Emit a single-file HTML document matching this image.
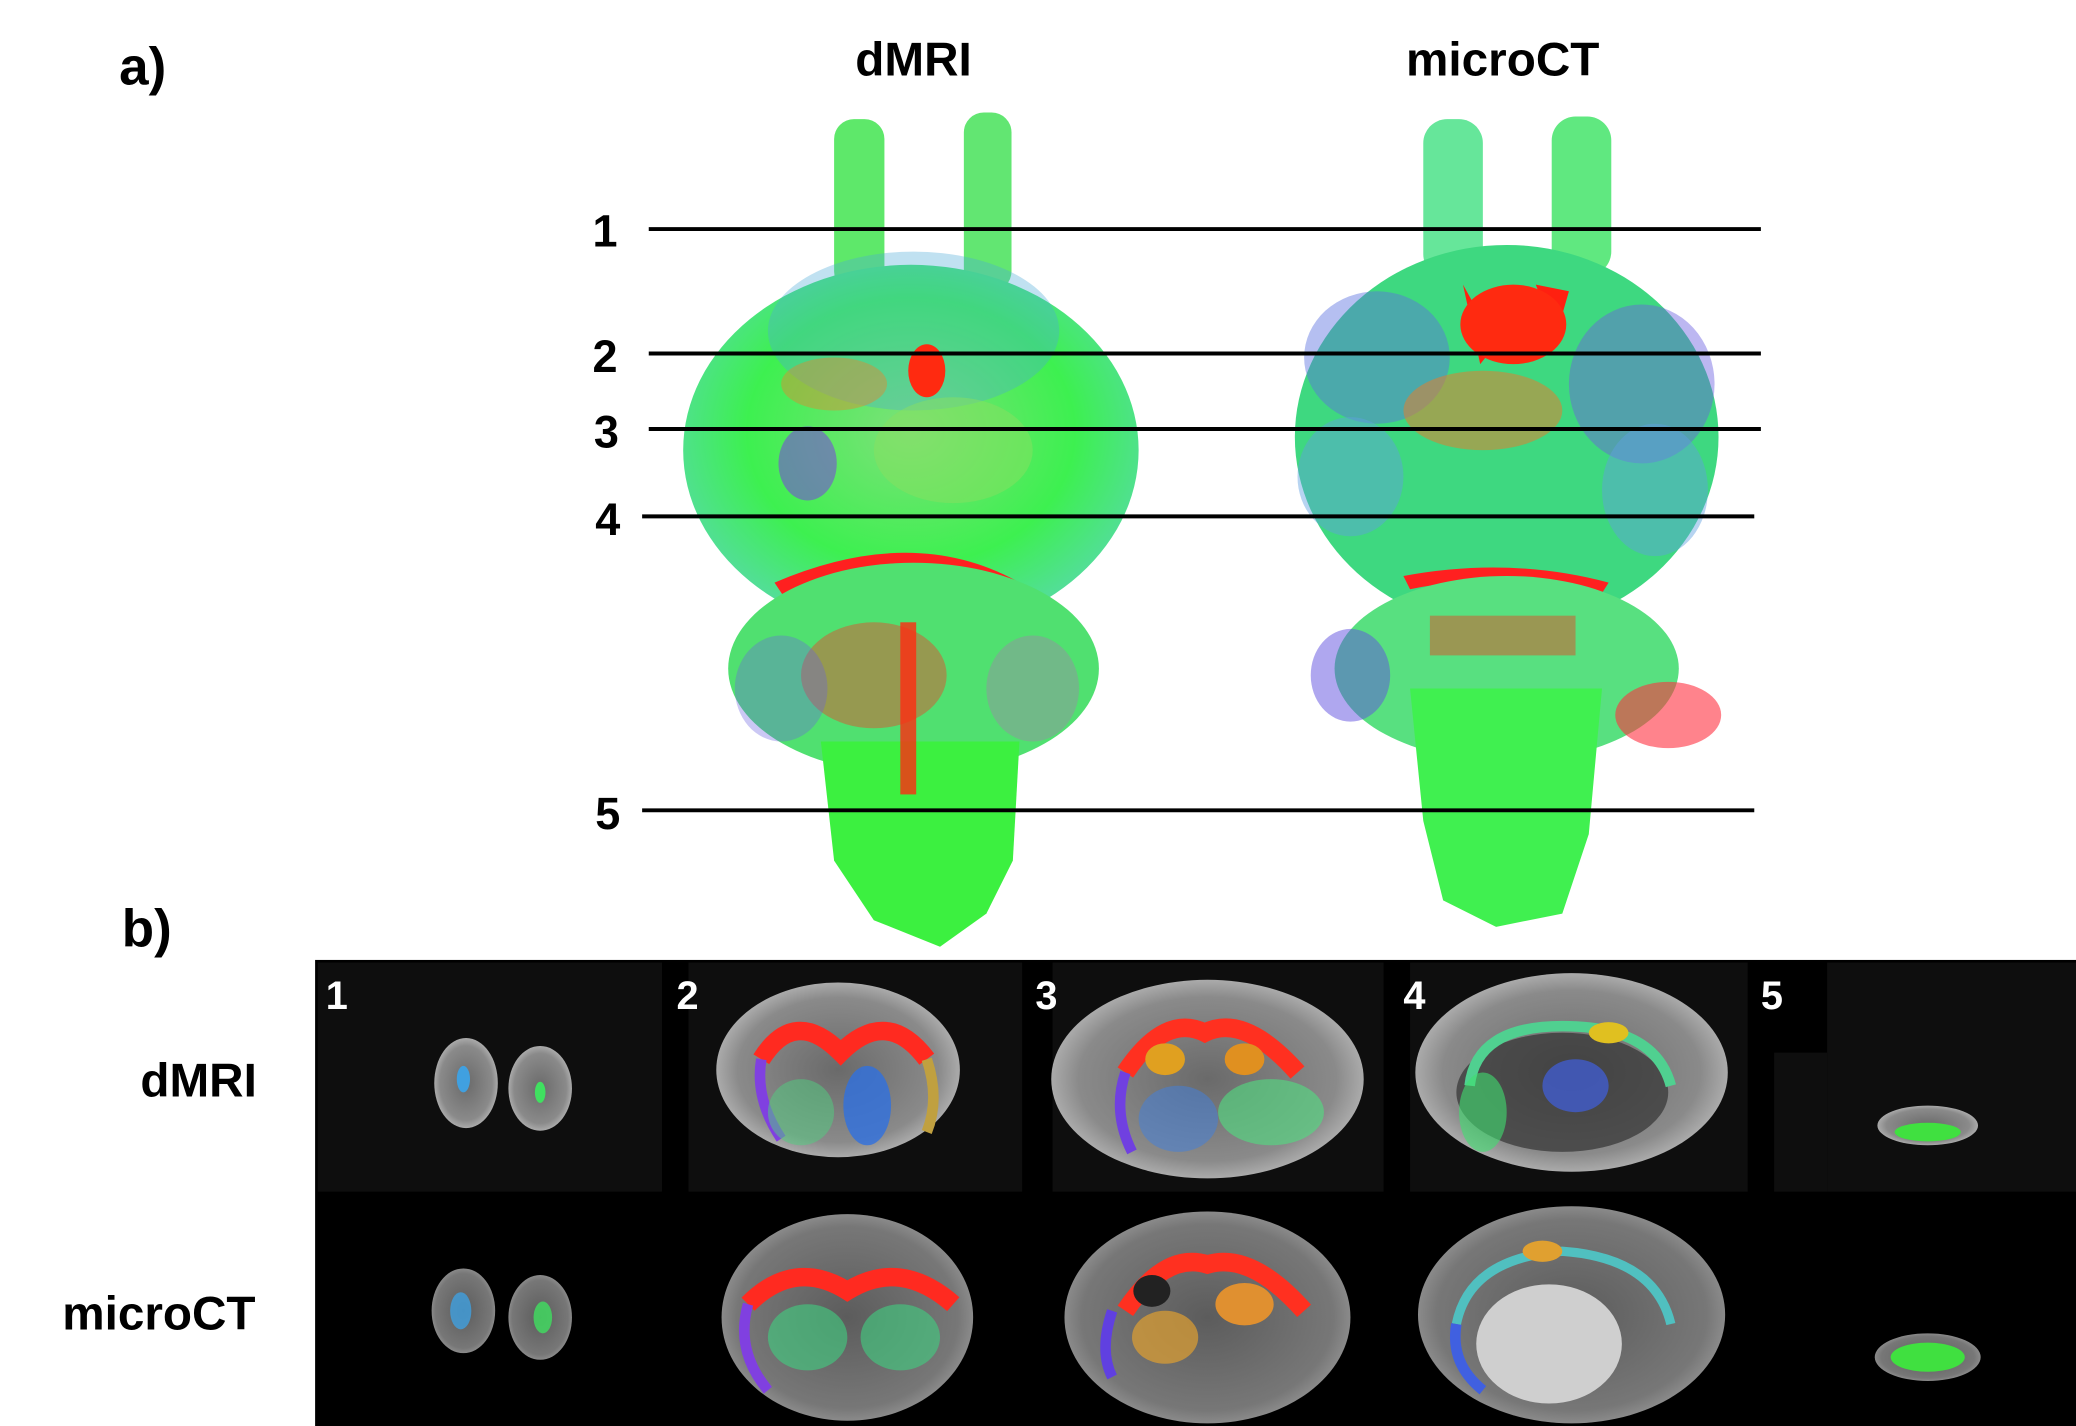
<!DOCTYPE html>
<html><head><meta charset="utf-8"><style>
html,body{margin:0;padding:0;background:#fff;}
svg{display:block;}
text{font-family:"Liberation Sans",sans-serif;font-weight:bold;}
</style></head><body>
<svg width="2076" height="1426" viewBox="0 0 1568 1077" preserveAspectRatio="none" xmlns="http://www.w3.org/2000/svg">
<defs>
<radialGradient id="gbrain" cx="50%" cy="45%" r="60%"><stop offset="0" stop-color="#7ee07a"/><stop offset="0.6" stop-color="#3df050"/><stop offset="1" stop-color="#5ad8b0"/></radialGradient>
<radialGradient id="gslice" cx="50%" cy="50%" r="55%"><stop offset="0" stop-color="#6a6a6a"/><stop offset="0.75" stop-color="#8a8a8a"/><stop offset="1" stop-color="#bdbdbd"/></radialGradient>
<radialGradient id="gslice2" cx="50%" cy="50%" r="55%"><stop offset="0" stop-color="#5c5c5c"/><stop offset="0.8" stop-color="#777"/><stop offset="1" stop-color="#9a9a9a"/></radialGradient>
</defs>
<text x="90" y="64" font-size="40">a)</text>
<text x="690" y="57" font-size="36" text-anchor="middle">dMRI</text>
<text x="1135" y="57" font-size="36" text-anchor="middle">microCT</text>

<g>
 <rect x="630" y="90" width="38" height="130" rx="15" fill="#5ee86a"/>
 <rect x="728" y="85" width="36" height="135" rx="15" fill="#62e672"/>
 <ellipse cx="688" cy="340" rx="172" ry="140" fill="url(#gbrain)"/>
 <ellipse cx="690" cy="250" rx="110" ry="60" fill="#4aa8d8" opacity="0.35"/>
 <ellipse cx="700" cy="280" rx="14" ry="20" fill="#ff2a10"/>
 <ellipse cx="630" cy="290" rx="40" ry="20" fill="#e08a30" opacity="0.45"/>
 <ellipse cx="610" cy="350" rx="22" ry="28" fill="#7a40e0" opacity="0.55"/>
 <ellipse cx="720" cy="340" rx="60" ry="40" fill="#88e060" opacity="0.5"/>
 <path d="M585 440 Q690 395 770 440 L760 455 Q690 420 595 455 Z" fill="#ff2020"/>
 <ellipse cx="690" cy="505" rx="140" ry="80" fill="#50e070"/>
 <ellipse cx="660" cy="510" rx="55" ry="40" fill="#ff3020" opacity="0.4"/>
 <ellipse cx="590" cy="520" rx="35" ry="40" fill="#6a60e0" opacity="0.35"/>
 <ellipse cx="780" cy="520" rx="35" ry="40" fill="#c060c0" opacity="0.3"/>
 <path d="M620 560 L770 560 L765 650 L745 690 L710 715 L660 695 L630 650 Z" fill="#3cf040"/>
 <rect x="680" y="470" width="12" height="130" fill="#ff2a10" opacity="0.8"/>
</g>

<g>
 <rect x="1075" y="90" width="45" height="120" rx="18" fill="#66e69a"/>
 <rect x="1172" y="88" width="45" height="120" rx="18" fill="#60e880"/>
 <ellipse cx="1138" cy="330" rx="160" ry="145" fill="#3ed880"/>
 <ellipse cx="1040" cy="270" rx="55" ry="50" fill="#5a70e0" opacity="0.45"/>
 <ellipse cx="1240" cy="290" rx="55" ry="60" fill="#6a60e0" opacity="0.45"/>
 <path d="M1105 215 L1130 260 L1118 275 Z M1160 215 L1185 220 L1175 255 Z" fill="#ff2010"/>
 <ellipse cx="1143" cy="245" rx="40" ry="30" fill="#ff2a10"/>
 <ellipse cx="1120" cy="310" rx="60" ry="30" fill="#e08030" opacity="0.55"/>
 <ellipse cx="1020" cy="360" rx="40" ry="45" fill="#60a0e0" opacity="0.45"/>
 <ellipse cx="1250" cy="370" rx="40" ry="50" fill="#60a0e0" opacity="0.45"/>
 <path d="M1060 435 Q1140 420 1215 440 L1210 448 Q1140 430 1065 445 Z" fill="#ff2020"/>
 <ellipse cx="1138" cy="505" rx="130" ry="70" fill="#58e080"/>
 <ellipse cx="1260" cy="540" rx="40" ry="25" fill="#ff3040" opacity="0.6"/>
 <ellipse cx="1020" cy="510" rx="30" ry="35" fill="#6050e0" opacity="0.5"/>
 <rect x="1080" y="465" width="110" height="30" fill="#ff2a10" opacity="0.4"/>
 <path d="M1065 520 L1210 520 L1200 630 L1180 690 L1130 700 L1090 680 L1075 620 Z" fill="#40f050"/>
</g>

<g stroke="#000" stroke-width="3">
 <line x1="490" y1="173" x2="1330" y2="173"/>
 <line x1="490" y1="267" x2="1330" y2="267"/>
 <line x1="490" y1="324" x2="1330" y2="324"/>
 <line x1="485" y1="390" x2="1325" y2="390"/>
 <line x1="485" y1="612" x2="1325" y2="612"/>
</g>
<g font-size="34" text-anchor="middle">
 <text x="457" y="186">1</text>
 <text x="457" y="281">2</text>
 <text x="458" y="338">3</text>
 <text x="459" y="404">4</text>
 <text x="459" y="626">5</text>
</g>

<text x="92" y="715" font-size="40">b)</text>
<text x="150" y="828" font-size="36" text-anchor="middle">dMRI</text>
<text x="120" y="1004" font-size="36" text-anchor="middle">microCT</text>

<rect x="238" y="725" width="1330" height="352" fill="#000"/>
<g fill="#0e0e0e">
 <rect x="240" y="727" width="260" height="173"/>
 <rect x="520" y="727" width="252" height="173"/>
 <rect x="795" y="727" width="250" height="173"/>
 <rect x="1065" y="727" width="255" height="173"/>
 <rect x="1380" y="727" width="188" height="173"/>
 <rect x="1340" y="795" width="40" height="105"/>
</g>
<g font-size="30" fill="#fff">
 <text x="246" y="762">1</text>
 <text x="511" y="762">2</text>
 <text x="782" y="762">3</text>
 <text x="1060" y="762">4</text>
 <text x="1330" y="762">5</text>
</g>

<g>
 <ellipse cx="352" cy="818" rx="24" ry="34" fill="url(#gslice)"/>
 <ellipse cx="408" cy="822" rx="24" ry="32" fill="url(#gslice)"/>
 <ellipse cx="350" cy="815" rx="5" ry="10" fill="#40a0e0"/><ellipse cx="408" cy="825" rx="4" ry="8" fill="#40e060"/>
</g>
<g>
 <ellipse cx="633" cy="808" rx="92" ry="66" fill="url(#gslice)"/>
 <path d="M575 800 Q600 760 635 795 Q670 760 700 800" stroke="#ff2a20" stroke-width="14" fill="none"/>
 <path d="M575 800 Q570 830 590 860" stroke="#8040e0" stroke-width="8" fill="none"/>
 <path d="M700 800 Q710 830 700 855" stroke="#c0a040" stroke-width="8" fill="none"/>
 <ellipse cx="655" cy="835" rx="18" ry="30" fill="#3070e0" opacity="0.8"/>
 <ellipse cx="605" cy="840" rx="25" ry="25" fill="#50d080" opacity="0.5"/>
</g>
<g>
 <ellipse cx="912" cy="815" rx="118" ry="75" fill="url(#gslice)"/>
 <path d="M850 810 Q880 765 910 780 Q940 765 980 810" stroke="#ff3020" stroke-width="14" fill="none"/>
 <path d="M850 810 Q840 840 855 870" stroke="#7040e0" stroke-width="8" fill="none"/>
 <ellipse cx="880" cy="800" rx="15" ry="12" fill="#e0a020"/>
 <ellipse cx="940" cy="800" rx="15" ry="12" fill="#e09020"/>
 <ellipse cx="960" cy="840" rx="40" ry="25" fill="#50e080" opacity="0.6"/>
 <ellipse cx="890" cy="845" rx="30" ry="25" fill="#4080e0" opacity="0.5"/>
</g>
<g>
 <ellipse cx="1187" cy="810" rx="118" ry="75" fill="url(#gslice)"/>
 <ellipse cx="1180" cy="825" rx="80" ry="45" fill="#333" opacity="0.7"/>
 <path d="M1110 820 Q1115 775 1180 775 Q1250 775 1262 820" stroke="#50d090" stroke-width="8" fill="none"/>
 <ellipse cx="1190" cy="820" rx="25" ry="20" fill="#4060e0" opacity="0.7"/>
 <ellipse cx="1215" cy="780" rx="15" ry="8" fill="#e0c020"/>
 <ellipse cx="1120" cy="840" rx="18" ry="30" fill="#40e070" opacity="0.6"/>
</g>
<g>
 <ellipse cx="1456" cy="850" rx="38" ry="15" fill="url(#gslice)"/>
 <ellipse cx="1456" cy="855" rx="25" ry="7" fill="#40e040"/>
</g>

<g>
 <ellipse cx="350" cy="990" rx="24" ry="32" fill="url(#gslice2)"/>
 <ellipse cx="408" cy="995" rx="24" ry="32" fill="url(#gslice2)"/>
 <ellipse cx="348" cy="990" rx="8" ry="14" fill="#40a0e0" opacity="0.8"/><ellipse cx="410" cy="995" rx="7" ry="12" fill="#40e060" opacity="0.8"/>
</g>
<g>
 <ellipse cx="640" cy="995" rx="95" ry="78" fill="url(#gslice2)"/>
 <path d="M565 985 Q600 950 640 975 Q680 950 720 985" stroke="#ff2a20" stroke-width="14" fill="none"/>
 <path d="M565 985 Q555 1020 580 1050" stroke="#8040e0" stroke-width="8" fill="none"/>
 <ellipse cx="610" cy="1010" rx="30" ry="25" fill="#40d080" opacity="0.6"/>
 <ellipse cx="680" cy="1010" rx="30" ry="25" fill="#40d080" opacity="0.6"/>
</g>
<g>
 <ellipse cx="912" cy="995" rx="108" ry="80" fill="url(#gslice2)"/>
 <path d="M850 990 Q880 945 912 955 Q945 945 985 990" stroke="#ff3020" stroke-width="14" fill="none"/>
 <path d="M840 990 Q830 1020 840 1040" stroke="#6040e0" stroke-width="8" fill="none"/>
 <ellipse cx="870" cy="975" rx="14" ry="12" fill="#222"/>
 <ellipse cx="940" cy="985" rx="22" ry="16" fill="#e09030"/>
 <ellipse cx="880" cy="1010" rx="25" ry="20" fill="#e0a030" opacity="0.7"/>
</g>
<g>
 <ellipse cx="1187" cy="993" rx="116" ry="82" fill="url(#gslice2)"/>
 <ellipse cx="1170" cy="1015" rx="55" ry="45" fill="#cfcfcf"/>
 <path d="M1100 1000 Q1110 950 1180 945 Q1250 950 1262 1000" stroke="#50c0c0" stroke-width="7" fill="none"/>
 <path d="M1100 1000 Q1095 1030 1120 1050" stroke="#4060e0" stroke-width="8" fill="none"/>
 <ellipse cx="1165" cy="945" rx="15" ry="8" fill="#e0a030"/>
</g>
<g>
 <ellipse cx="1456" cy="1025" rx="40" ry="18" fill="url(#gslice2)"/>
 <ellipse cx="1456" cy="1025" rx="28" ry="11" fill="#40e040"/>
</g>
</svg>
</body></html>
